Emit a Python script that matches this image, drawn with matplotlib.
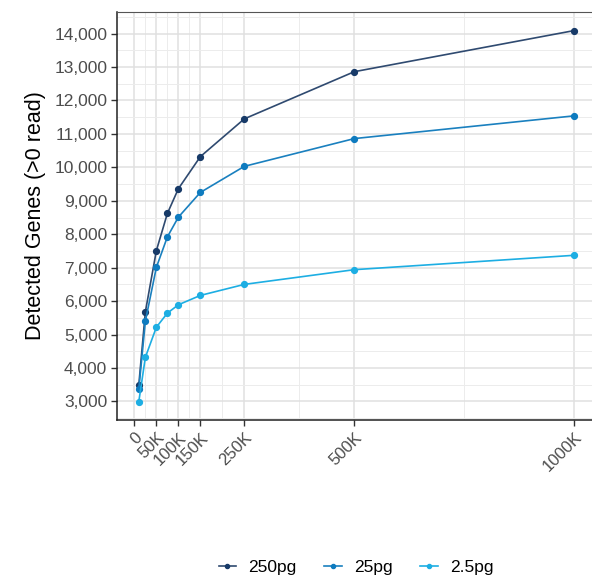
import matplotlib.pyplot as plt
from matplotlib.ticker import FixedLocator

plt.rcParams['font.family'] = ['Liberation Sans', 'DejaVu Sans']

# reads (x) and detected genes for each input amount
reads = [10000, 25000, 50000, 75000, 100000, 150000, 250000, 500000, 1000000]
genes_250pg = [3480, 5680, 7510, 8620, 9360, 10320, 11450, 12860, 14090]
genes_25pg = [3360, 5400, 7010, 7920, 8510, 9250, 10030, 10860, 11540]
genes_2_5pg = [2990, 4320, 5220, 5640, 5890, 6170, 6500, 6940, 7370]

series = ["250pg", "25pg", "2.5pg"]
colors = ["#173a68", "#0e7bbf", "#1daee3"]
line_colors = ["#2f4a70", "#1a80bf", "#1daee3"]

x_ticks = [0, 50000, 100000, 150000, 250000, 500000, 1000000]
x_labels = ["0", "50K", "100K", "150K", "250K", "500K", "1000K"]
x_minor = [25000, 75000, 125000, 200000, 375000, 750000]
y_ticks = list(range(3000, 14001, 1000))
y_labels = ["{:,}".format(v) for v in y_ticks]

W, H = 592, 579
fig = plt.figure(figsize=(W / 100, H / 100), dpi=100)
ax = fig.add_axes([117 / W, (H - 420) / H, (596 - 117) / W, (420 - 12) / H])

for vals, name, c, lc in zip([genes_250pg, genes_25pg, genes_2_5pg], series, colors, line_colors):
    ax.plot(reads, vals, color=lc, lw=1.2, marker="o", ms=4.2,
            markerfacecolor=c, markeredgecolor=c, label=name, zorder=3)

ax.set_xlim(-39500, 1049500)
ax.set_ylim(2445, 14645)

ax.xaxis.set_major_locator(FixedLocator(x_ticks))
ax.xaxis.set_minor_locator(FixedLocator(x_minor))
ax.set_xticklabels(x_labels, rotation=45, ha="right", va="top",
                   rotation_mode="anchor", fontsize=12, color="#4d4d4d")
ax.yaxis.set_major_locator(FixedLocator(y_ticks))
ax.yaxis.set_minor_locator(FixedLocator([v + 500 for v in range(2000, 14001, 1000)]))
ax.set_yticklabels(y_labels, fontsize=12.5, color="#4d4d4d")

ax.grid(which="major", color="#e0e0e0", lw=1.1)
ax.grid(which="minor", color="#ececec", lw=0.7)
ax.set_axisbelow(True)
ax.tick_params(which="major", length=4, width=1, color="#333333", pad=3)
ax.tick_params(which="minor", length=0)

for s in ["left", "bottom"]:
    ax.spines[s].set_color("#222222")
    ax.spines[s].set_linewidth(1.1)
ax.spines["top"].set_color("#555555")
ax.spines["top"].set_linewidth(0.8)
ax.spines["right"].set_visible(False)

ax.set_ylabel("Detected Genes (>0 read)", fontsize=15.5, color="black", labelpad=6)

fig.legend(loc="center", bbox_to_anchor=(356 / W, 1 - 567 / H), ncol=3,
           frameon=False, fontsize=12.5, handlelength=1.0, columnspacing=1.6,
           handletextpad=0.7, markerscale=0.7)

fig.savefig("out.png", dpi=100, facecolor="white")
